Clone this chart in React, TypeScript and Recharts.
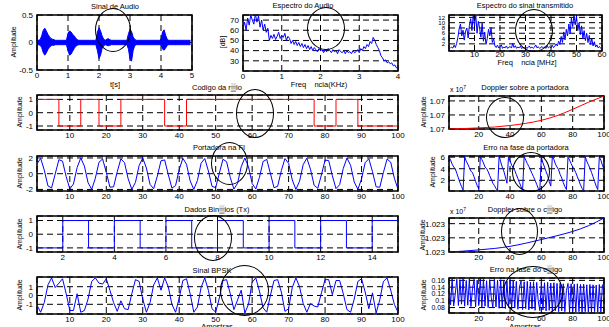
import React from 'react';
import { ComposedChart, Line, Area, XAxis, YAxis, CartesianGrid, ReferenceArea } from 'recharts';

const BLUE = '#0000ff';
const RED = '#ff0000';
const FONT = '"Liberation Sans", Arial, sans-serif';

// Sinal de Audio: envelope (max/min) every 0.05 s
const AUDIO_STEP = 0.05;
const audioHi = [
  0.04, 0.04, 0.05, 0.12, 0.22, 0.26, 0.21, 0.15, 0.11, 0.07,
  0.06, 0.05, 0.04, 0.04, 0.04, 0.04, 0.04, 0.04, 0.04, 0.04,
  0.17, 0.21, 0.19, 0.15, 0.12, 0.08, 0.05, 0.04, 0.04, 0.04,
  0.04, 0.04, 0.04, 0.04, 0.04, 0.04, 0.04, 0.04, 0.04, 0.19,
  0.27, 0.21, 0.12, 0.06, 0.04, 0.06, 0.07, 0.05, 0.04, 0.04,
  0.04, 0.04, 0.04, 0.04, 0.04, 0.04, 0.04, 0.04, 0.04, 0.16,
  0.24, 0.2, 0.1, 0.06, 0.04, 0.04, 0.04, 0.04, 0.04, 0.04,
  0.04, 0.04, 0.04, 0.04, 0.04, 0.04, 0.04, 0.04, 0.04, 0.04,
  0.06, 0.19, 0.23, 0.13, 0.06, 0.04, 0.04, 0.04, 0.04, 0.04,
  0.04, 0.04, 0.04, 0.04, 0.04, 0.04, 0.04, 0.04, 0.04, 0.04,
];
const audioLo = [
  -0.04, -0.04, -0.05, -0.09, -0.18, -0.23, -0.19, -0.13, -0.09, -0.06,
  -0.05, -0.05, -0.04, -0.04, -0.04, -0.04, -0.04, -0.04, -0.04, -0.04,
  -0.15, -0.23, -0.21, -0.16, -0.11, -0.07, -0.05, -0.04, -0.04, -0.04,
  -0.04, -0.04, -0.04, -0.04, -0.04, -0.04, -0.04, -0.04, -0.04, -0.15,
  -0.29, -0.23, -0.11, -0.06, -0.04, -0.05, -0.06, -0.05, -0.04, -0.04,
  -0.04, -0.04, -0.04, -0.04, -0.04, -0.04, -0.04, -0.04, -0.04, -0.12,
  -0.3, -0.34, -0.15, -0.06, -0.04, -0.04, -0.04, -0.04, -0.04, -0.04,
  -0.04, -0.04, -0.04, -0.04, -0.04, -0.04, -0.04, -0.04, -0.04, -0.04,
  -0.04, -0.12, -0.14, -0.1, -0.05, -0.04, -0.04, -0.04, -0.04, -0.04,
  -0.04, -0.04, -0.04, -0.04, -0.04, -0.04, -0.04, -0.04, -0.04, -0.04,
];

// Espectro do Audio (dB), every 0.04 KHz
const SPEC_STEP = 0.04;
const specAudio = [
  62, 68, 60, 72, 65, 75, 70, 66, 76, 68, 74, 63, 70, 60, 66, 58, 62, 50, 55, 52,
  56, 51, 54, 58, 52, 55, 53, 57, 50, 54, 52, 47, 50, 46, 49, 45, 48, 44, 47, 43,
  46, 42, 45, 41, 44, 40, 43, 41, 39, 42, 40, 41, 38, 41, 39, 42, 40, 38, 41, 39,
  40, 37, 41, 39, 38, 40, 37, 40, 38, 39, 37, 40, 38, 39, 41, 38, 42, 40, 44, 42,
  46, 44, 49, 47, 53, 50, 46, 43, 40, 35, 33, 30, 31, 28, 29, 27, 28, 25, 26, 23, 24,
];

// Espectro do sinal transmitido, every 0.5 MHz starting at 0.5
const TX_STEP = 0.5;
const specTx = [
  0.3, 0.8, 0.4, 1.5, 0.6, 2.2, 4.5, 7.8, 9.5, 5.0, 7.2, 3.4,
  6.8, 8.0, 4.2, 9.0, 11.5, 7.0, 13.0, 9.0, 12.8, 6.0, 10.5, 8.0,
  4.5, 9.8, 3.0, 6.5, 1.8, 4.0, 7.5, 5.0, 8.2, 2.5, 4.0, 1.2,
  0.6, 1.5, 0.4, 0.9, 1.6, 0.3, 0.8, 0.5, 1.2, 0.3, 0.7, 1.0,
  0.4, 2.2, 0.6, 1.3, 0.3, 0.8, 0.5, 1.1, 0.2, 0.7, 0.4, 0.9,
  0.3, 0.6, 1.2, 0.4, 0.8, 0.3, 0.7, 1.6, 0.5, 0.9, 0.3, 0.6,
  1.0, 0.4, 0.8, 0.3, 1.3, 0.5, 0.9, 0.4, 1.5, 0.6, 1.1, 2.0,
  1.2, 3.0, 1.8, 4.8, 2.5, 6.5, 3.5, 7.5, 5.0, 9.5, 6.0, 11.8,
  8.5, 13.0, 9.2, 12.5, 7.0, 10.0, 5.5, 8.8, 4.0, 7.0, 3.2, 6.0,
  2.5, 5.2, 1.8, 4.0, 1.2, 2.8, 0.8, 1.6, 0.5, 1.0, 0.3, 0.6,
];

// Codigo: chip transitions
const codeX = [1, 7, 13, 18, 24, 36, 42, 77, 83, 89, 100];
const codeY = [1, -1, 1, -1, 1, -1, 1, -1, 1, -1, -1];

// Doppler curves (relative to tick 1.07e7 / 1.023e7)
const dopX = [1, 10, 20, 30, 40, 50, 60, 70, 80, 90, 100];
const dopCarrier = [0, 0.03, 0.08, 0.14, 0.25, 0.4, 0.62, 0.95, 1.4, 1.9, 2.35];
const dopCode = [0, 0.06, 0.15, 0.25, 0.4, 0.62, 0.88, 1.15, 1.45, 1.85, 2.4];

// Portadora na FI, samples 1..100
const carrier = [
  1.26, 1.95, 0.45, -1.55, -1.81, -0.03, 1.78, 1.6, -0.38, -1.93,
  -1.31, 0.78, 2.0, 0.97, -1.15, -1.98, -0.58, 1.46, 1.87, 0.17,
  -1.71, -1.68, 0.24, 1.89, 1.41, -0.65, -1.99, -1.09, 1.03, 1.99,
  0.72, -1.36, -1.91, -0.31, 1.64, 1.75, -0.1, -1.84, -1.51, 0.52,
  1.96, 1.2, -0.91, -2.0, -0.85, 1.33, 1.93, 0.36, -1.61, -1.77,
  0.06, 1.83, 1.53, -0.48, -1.96, -1.23, 0.88, 2.0, 0.87, -1.24,
  -1.95, -0.47, 1.55, 1.82, 0.05, -1.78, -1.6, 0.38, 1.93, 1.31,
  -0.78, -2.0, -0.96, 1.16, 1.97, 0.57, -1.47, -1.86, -0.15, 1.73,
  1.66, -0.27, -1.9, -1.39, 0.68, 1.99, 1.06, -1.06, -1.99, -0.67,
  1.4, 1.9, 0.26, -1.67, -1.72, 0.16, 1.86, 1.47, -0.58, -1.97,
];

// Erro na fase da portadora, samples 1..100
const carrierPhase = [
  6.0, 5.5, 4.8, 4.3, 4.0, 3.2, 2.4, 1.6, 0.9, 0.3,
  6.1, 5.3, 4.8, 4.2, 3.6, 3.3, 2.6, 1.8, 1.1, 0.5,
  6.0, 5.6, 5.0, 4.3, 4.0, 3.5, 2.8, 2.2, 1.5, 1.1, 0.6, 0.2,
  6.2, 5.2, 4.3, 3.6, 2.6, 1.5,
  6.0, 5.4, 4.6, 4.2, 3.7, 3.0, 2.3, 1.6, 0.9, 0.3,
  6.1, 5.5, 4.9, 4.4, 3.8, 3.2, 2.6, 2.0, 1.3, 0.6, 0.2,
  6.0, 5.0, 4.3, 3.5, 2.8, 1.8, 1.0,
  6.1, 5.6, 4.8, 4.3, 3.8, 3.0, 2.4, 1.6, 0.9, 0.4,
  6.0, 5.5, 4.9, 4.3, 3.9, 3.3, 2.6, 1.9, 1.2, 0.6, 0.2,
  6.1, 5.3, 4.7, 4.1, 3.4, 2.6, 1.8, 1.0, 0.4,
  6.0, 5.5, 4.6, 3.9,
];

// Dados Binarios (Tx), bits 1..15
const bits = [-1, 1, -1, 1, -1, 1, -1, 1, -1, 1, -1, 1, -1, 1, 1];

// Sinal BPSK, samples 1..100
const bpsk = [
  -1.1, -1.9, -0.8, 1.2, 2.0, 0.9, 1.4, 1.9, 0.2, -1.7,
  -1.7, 0.2, -1.9, -1.7, -0.4, 1.6, 2.0, 1.4, 1.3, 1.9,
  0.6, -0.8, -1.8, -0.6, -1.5, -1.6, 0.2, 1.8, 1.6, -0.4,
  -1.9, -0.8, 1.2, 2.0, 0.6, 2.0, 1.0, -1.0, -1.9, -0.3,
  1.7, 1.9, 0.2, -1.9, -1.3, 0.9, 2.0, 0.6, -1.5, -1.9,
  -0.3, 1.7, 1.8, 0.2, -1.6, -0.5, 0.6, -2.0, -1.0, 1.5,
  2.0, 0.5, -1.4, -1.9, 0.0, 1.7, 1.8, 0.4, -1.8, -1.5,
  0.9, 2.0, 1.0, -0.9, -1.9, -0.9, -1.2, -1.3, 0.3, 1.8,
  1.8, 0.1, 1.7, 1.7, 0.2, -1.6, -1.9, -0.4, 1.6, 1.9,
  0.4, -1.5, 0.3, -2.0, -0.5, 1.6, 2.0, 0.6, -1.0, -1.9,
];

// Erro na fase do codigo, samples 1..100
const codePhase = [
  0.15, 0.088, 0.164, 0.085, 0.12, 0.163, 0.086, 0.162, 0.09, 0.165,
  0.084, 0.16, 0.087, 0.164, 0.083, 0.135, 0.163, 0.082, 0.161, 0.086,
  0.164, 0.081, 0.163, 0.084, 0.159, 0.08, 0.162, 0.11, 0.079, 0.163,
  0.082, 0.161, 0.078, 0.162, 0.081, 0.16, 0.077, 0.158, 0.08, 0.161,
  0.076, 0.159, 0.079, 0.157, 0.075, 0.14, 0.158, 0.074, 0.156, 0.077,
  0.157, 0.073, 0.155, 0.076, 0.156, 0.072, 0.154, 0.1, 0.071, 0.155,
  0.073, 0.153, 0.07, 0.154, 0.072, 0.152, 0.069, 0.153, 0.071, 0.151,
  0.068, 0.152, 0.07, 0.15, 0.068, 0.13, 0.151, 0.067, 0.15, 0.069,
  0.149, 0.067, 0.15, 0.068, 0.148, 0.066, 0.149, 0.068, 0.147, 0.067,
  0.148, 0.066, 0.147, 0.068, 0.146, 0.066, 0.148, 0.067, 0.147, 0.146,
];

const audioData = audioHi.map((h, i) => ({ x: i * AUDIO_STEP, r: [audioLo[i], h] }));
const specAudioData = specAudio.map((v, i) => ({ x: i * SPEC_STEP, y: v }));
const specTxData = specTx.map((v, i) => ({ x: (i + 1) * TX_STEP, y: v }));
const codeData = codeX.map((x, i) => ({ x, y: codeY[i] }));
const dopCarrierData = dopX.map((x, i) => ({ x, y: dopCarrier[i] }));
const dopCodeData = dopX.map((x, i) => ({ x, y: dopCode[i] }));
const seq = (arr: number[]) => arr.map((y, i) => ({ x: i + 1, y }));

type Box = [number, number, number, number];

function Panel({
  box, xDomain, yDomain, xTicks, yTicks, yFmt, yFont = 8, xGap = 2, data, children,
}: {
  box: Box; xDomain: [number, number]; yDomain: [number, number];
  xTicks: number[]; yTicks: number[]; yFmt?: (v: number) => string; yFont?: number;
  xGap?: number; data: any[]; children: React.ReactNode;
}) {
  const [L, T, R, B] = box;
  const YW = 40, XH = 16, TOP = 6, RIGHT = 12;
  return (
    <div style={{ position: 'absolute', left: L - YW, top: T - TOP }}>
      <ComposedChart
        width={R - L + YW + RIGHT}
        height={B - T + TOP + XH}
        data={data}
        margin={{ top: TOP, right: RIGHT, bottom: 0, left: 0 }}
      >
        <CartesianGrid stroke="#000" strokeDasharray="6 4" strokeWidth={1} />
        <XAxis
          type="number" dataKey="x" domain={xDomain} ticks={xTicks} allowDataOverflow
          height={XH} tickLine={false} axisLine={false} tickSize={xGap} tickMargin={0} interval={0}
          tick={{ fontSize: 8, fill: '#000' }}
        />
        <YAxis
          type="number" domain={yDomain} ticks={yTicks} allowDataOverflow width={YW}
          tickLine={false} axisLine={false} tickSize={3} tickMargin={1} interval={0}
          tick={{ fontSize: yFont, fill: '#000' }} tickFormatter={yFmt}
        />
        {children}
        <ReferenceArea
          x1={xDomain[0]} x2={xDomain[1]} y1={yDomain[0]} y2={yDomain[1]}
          fill="none" fillOpacity={0} stroke="#000" strokeWidth={1.6} ifOverflow="visible"
        />
      </ComposedChart>
    </div>
  );
}

function Txt({ x, y, children, size = 7.5, rotate = false }: {
  x: number; y: number; children: React.ReactNode; size?: number; rotate?: boolean;
}) {
  return (
    <div
      style={{
        position: 'absolute', left: x, top: y, fontSize: size, whiteSpace: 'pre', lineHeight: 1,
        transform: `translate(-50%, -50%)${rotate ? ' rotate(-90deg)' : ''}`, color: '#000',
      }}
    >
      {children}
    </div>
  );
}

const circles: Box[] = [
  [95, 8, 131, 52], [307, 7, 345, 50], [515, 9, 553, 52],
  [236, 89, 274, 138], [486, 97, 524, 138],
  [211, 142, 248, 185], [512, 152, 550, 192],
  [194, 215, 232, 261], [501, 208, 538, 255],
  [220, 265, 269, 316], [503, 266, 563, 318],
];

const x10 = <span>x 10<sup style={{ fontSize: 5 }}>7</sup></span>;
const line = (color: string, type: any = 'linear') => (
  <Line dataKey="y" stroke={color} strokeWidth={1} dot={false} type={type} isAnimationActive={false} />
);
const t100 = [10, 20, 30, 40, 50, 60, 70, 80, 90, 100];
const t20 = [20, 40, 60, 80, 100];

export default function App() {
  return (
    <div
      style={{
        position: 'absolute', left: 0, top: 0, width: 609, height: 327, overflow: 'hidden',
        background: '#fff', fontFamily: FONT,
      }}
    >
      <Panel box={[37, 15, 192, 70]} xDomain={[0, 5]} yDomain={[-0.5, 0.5]}
        xTicks={[0, 1, 2, 3, 4, 5]} yTicks={[-0.5, 0, 0.5]} data={audioData}>
        <Area dataKey="r" type="linear" stroke={BLUE} strokeWidth={1} fill={BLUE} fillOpacity={1} isAnimationActive={false} />
      </Panel>
      <Panel box={[243, 15, 398, 71]} xDomain={[0, 4]} yDomain={[20, 75]}
        xTicks={[0, 1, 2, 3, 4]} yTicks={[30, 40, 50, 60, 70]} data={specAudioData}>
        {line(BLUE)}
      </Panel>
      <Panel box={[449, 15, 602, 51]} xDomain={[0, 60]} yDomain={[-0.7, 12.9]} xGap={0}
        xTicks={[10, 20, 30, 40, 50, 60]} yTicks={[2, 4, 6, 8, 10, 12]} yFont={6} data={specTxData}>
        {line(BLUE)}
      </Panel>

      <Panel box={[37, 95, 398, 130]} xDomain={[1, 100]} yDomain={[-1.3, 1.33]}
        xTicks={t100} yTicks={[-1, 0, 1]} data={codeData}>
        {line(RED, 'stepAfter')}
      </Panel>
      <Panel box={[449, 96, 604, 129]} xDomain={[1, 100]} yDomain={[0, 2.35]}
        xTicks={t20} yTicks={[0, 1, 2]} yFmt={() => '1.07'} data={dopCarrierData}>
        {line(RED, 'monotone')}
      </Panel>

      <Panel box={[37, 156, 398, 191]} xDomain={[1, 100]} yDomain={[-2.2, 2.25]}
        xTicks={t100} yTicks={[-2, 0, 2]} data={seq(carrier)}>
        {line(BLUE)}
      </Panel>
      <Panel box={[449, 156, 604, 191]} xDomain={[1, 100]} yDomain={[0.15, 6.2]}
        xTicks={t20} yTicks={[2, 4, 6]} data={seq(carrierPhase)}>
        {line(BLUE)}
      </Panel>

      <Panel box={[37, 216, 398, 252]} xDomain={[1, 15]} yDomain={[-1.3, 1.33]}
        xTicks={[2, 4, 6, 8, 10, 12, 14]} yTicks={[-1, 0, 1]} data={seq(bits)}>
        {line(BLUE, 'stepAfter')}
      </Panel>
      <Panel box={[449, 218, 604, 252]} xDomain={[1, 100]} yDomain={[0, 2.4]}
        xTicks={t20} yTicks={[0, 1, 2]} yFmt={() => '1.023'} data={dopCodeData}>
        {line(BLUE, 'monotone')}
      </Panel>

      <Panel box={[37, 277, 398, 314]} xDomain={[1, 100]} yDomain={[-2.1, 2.1]}
        xTicks={t100} yTicks={[-1, 0, 1]} data={seq(bpsk)}>
        {line(BLUE)}
      </Panel>
      <Panel box={[449, 278, 604, 313]} xDomain={[1, 100]} yDomain={[0.064, 0.167]}
        xTicks={t20} yTicks={[0.08, 0.1, 0.12, 0.14, 0.16]} yFont={7} data={seq(codePhase)}>
        {line(BLUE)}
      </Panel>

      <Txt x={115} y={7}>Sinal de Audio</Txt>
      <Txt x={303} y={6}>Espectro do Audio</Txt>
      <Txt x={525} y={6}>Espectro do sinal transmitido</Txt>
      <Txt x={115} y={85}>t[s]</Txt>
      <Txt x={319} y={85}>{'Freq    ncia(KHz)'}</Txt>
      <Txt x={527} y={63}>{'Freq    ncia [MHz]'}</Txt>
      <Txt x={13} y={42} size={7} rotate>Amplitude</Txt>
      <Txt x={222} y={42} size={7} rotate>[dB]</Txt>

      <Txt x={217} y={88}>Codigo da r▒io</Txt>
      <Txt x={458} y={89} size={7}>{x10}</Txt>
      <Txt x={525} y={88}>Doppler sobre a portadora</Txt>
      <Txt x={19} y={112} size={7} rotate>Amplitude</Txt>
      <Txt x={423} y={112} size={7} rotate>Amplitude</Txt>

      <Txt x={219} y={148}>Portadora na FI</Txt>
      <Txt x={526} y={148}>Erro na fase da portadora</Txt>
      <Txt x={19} y={173} size={7} rotate>Amplitude</Txt>
      <Txt x={432} y={172} size={7} rotate>Amplitude</Txt>

      <Txt x={217} y={210}>Dados Bin▒ios (Tx)</Txt>
      <Txt x={458} y={211} size={7}>{x10}</Txt>
      <Txt x={525} y={210}>Doppler sobre o c▒igo</Txt>
      <Txt x={19} y={234} size={7} rotate>Amplitude</Txt>
      <Txt x={422} y={235} size={7} rotate>Amplitude</Txt>

      <Txt x={212} y={271}>Sinal BPSK</Txt>
      <Txt x={526} y={270}>Erro na fase do c▒igo</Txt>
      <Txt x={19} y={295} size={7} rotate>Amplitude</Txt>
      <Txt x={423} y={295} size={7} rotate>Amplitude</Txt>
      <Txt x={217} y={327}>Amostras</Txt>
      <Txt x={525} y={327}>Amostras</Txt>

      {circles.map(([l, t, r, b], i) => (
        <div
          key={i}
          style={{
            position: 'absolute', left: l, top: t, width: r - l, height: b - t,
            border: '1px solid #000', borderRadius: '50%', boxSizing: 'border-box', pointerEvents: 'none',
          }}
        />
      ))}
    </div>
  );
}
